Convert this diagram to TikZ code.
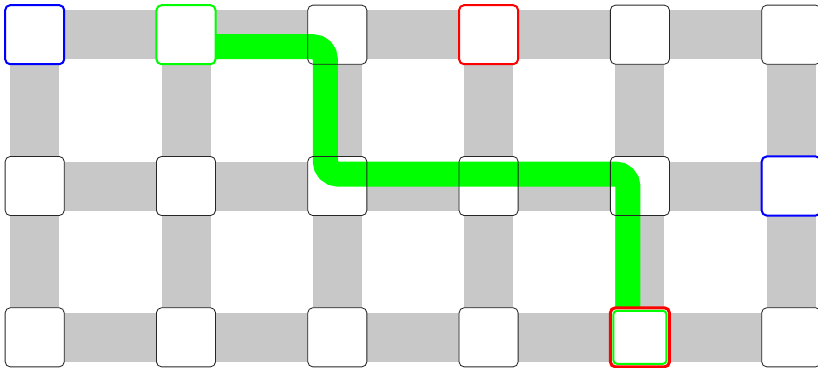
\documentclass[tikz,border=0pt]{standalone}
\usetikzlibrary{backgrounds}
\usepackage{xcolor}
\definecolor{bandgray}{RGB}{200,200,200}

\begin{document}
\begin{tikzpicture}[
        cell/.style={rectangle, rounded corners=0.125cm, fill=white, minimum size=1.4625cm, inner sep=0pt},
        frame/.style={rounded corners=0.125cm, draw=black!85, line width=0.6pt},
        hilite/.style={frame, line width=1.4pt},
        band/.style={line width=1.225cm, bandgray},
        route/.style={line width=0.625cm, green, rounded corners=0.3125cm}
    ]
        \useasboundingbox (-0.8675,0.8675) rectangle (19.5825,-8.3075);

        % Cells
        \foreach \i in {0,...,5}
            \foreach \j in {0,1,2}
                \node[cell] (n-\i-\j) at (\i*3.7825, -\j*3.7825) {};

        % Grid bands
        \begin{scope}[on background layer]
            \foreach \j in {0,1,2}
                \draw[band] (n-0-\j.center) -- (n-5-\j.center);
            \foreach \i in {0,...,5}
                \draw[band] (n-\i-0.center) -- (n-\i-2.center);
        \end{scope}

        % Route
        \draw[route] ([yshift=-0.3cm]n-1-0.east)
            -- ([shift={(-0.3,-0.3)}]n-2-0.center)
            -- ([shift={(-0.3,0.3)}]n-2-1.center)
            -- ([shift={(-0.3,0.3)}]n-4-1.center)
            -- ([xshift=-0.3cm]n-4-2.north);

        % Cell frames
        \foreach \i in {0,...,5}
            \foreach \j in {0,1,2}
                \draw[frame] (n-\i-\j.south west) rectangle (n-\i-\j.north east);

        \draw[hilite, draw=blue] (n-0-0.south west) rectangle (n-0-0.north east);
        \draw[hilite, draw=green] (n-1-0.south west) rectangle (n-1-0.north east);
        \draw[hilite, draw=red] (n-3-0.south west) rectangle (n-3-0.north east);
        \draw[hilite, draw=blue] (n-5-1.south west) rectangle (n-5-1.north east);
        \draw[hilite, draw=red, line width=2.1pt] (n-4-2.south west) rectangle (n-4-2.north east);
        \draw[hilite, draw=green, rounded corners=0.09cm] ([shift={(0.075,0.075)}]n-4-2.south west) rectangle ([shift={(-0.075,-0.075)}]n-4-2.north east);
    \end{tikzpicture}
\end{document}
